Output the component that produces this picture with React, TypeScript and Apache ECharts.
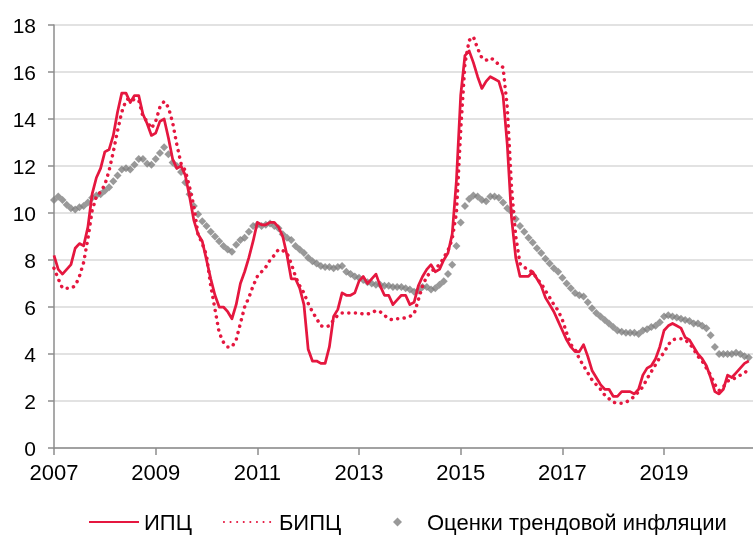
import React, { useEffect, useRef } from "react";
import * as echarts from "echarts";

const startYear = 2007;
const seriesNames = ["ИПЦ", "БИПЦ", "Оценки трендовой инфляции"];

// Monthly values from Jan 2007
const cpi = [
  8.2, 7.6, 7.4, 7.6, 7.8, 8.5, 8.7, 8.6, 9.4, 10.8, 11.5, 11.9,
  12.6, 12.7, 13.3, 14.3, 15.1, 15.1, 14.7, 15.0, 15.0, 14.2, 13.8, 13.3,
  13.4, 13.9, 14.0, 13.2, 12.3, 11.9, 12.0, 11.6, 10.7, 9.7, 9.1, 8.8,
  8.0, 7.2, 6.5, 6.0, 6.0, 5.8, 5.5, 6.1, 7.0, 7.5, 8.1, 8.8,
  9.6, 9.5, 9.5, 9.6, 9.6, 9.4, 9.0, 8.2, 7.2, 7.2, 6.8, 6.1,
  4.2, 3.7, 3.7, 3.6, 3.6, 4.3, 5.6, 5.9, 6.6, 6.5, 6.5, 6.6,
  7.1, 7.3, 7.0, 7.2, 7.4, 6.9, 6.5, 6.5, 6.1, 6.3, 6.5, 6.5,
  6.1, 6.2, 6.9, 7.3, 7.6, 7.8, 7.5, 7.6, 8.0, 8.3, 9.1, 11.4,
  15.0, 16.7, 16.9, 16.4, 15.8, 15.3, 15.6, 15.8, 15.7, 15.6, 15.0, 12.9,
  9.8, 8.1, 7.3, 7.3, 7.3, 7.5, 7.2, 6.9, 6.4, 6.1, 5.8, 5.4,
  5.0, 4.6, 4.3, 4.1, 4.1, 4.4, 3.9, 3.3, 3.0, 2.7, 2.5, 2.5,
  2.2, 2.2, 2.4, 2.4, 2.4, 2.3, 2.5, 3.1, 3.4, 3.5, 3.8, 4.3,
  5.0, 5.2, 5.3, 5.2, 5.1, 4.7, 4.6, 4.3, 4.0, 3.8, 3.5, 3.0,
  2.4, 2.3, 2.5, 3.1, 3.0, 3.2, 3.4, 3.6, 3.7,
];

const coreCpi = [
  7.65, 7.2, 6.8, 6.8, 6.8, 6.9, 7.3, 7.9, 8.9, 10.1, 10.7, 10.9,
  11.2, 11.8, 12.6, 13.5, 14.3, 14.8, 14.9, 14.8, 14.8, 14.1, 13.9, 13.6,
  13.9, 14.5, 14.75, 14.5, 13.85, 12.9, 12.1, 11.8, 11.1, 10.3, 9.1, 8.7,
  8.2, 6.9, 5.9, 4.9, 4.5, 4.3, 4.3, 4.6, 5.3, 6.0, 6.4, 6.9,
  7.3, 7.5, 7.7, 8.0, 8.2, 8.45, 8.4, 8.3, 7.85, 7.3, 6.9, 6.6,
  6.15, 5.8, 5.5, 5.2, 5.15, 5.2, 5.45, 5.65, 5.75, 5.75, 5.75, 5.75,
  5.75, 5.7, 5.7, 5.75, 5.85, 5.8, 5.65, 5.5, 5.45, 5.5, 5.5, 5.55,
  5.6, 5.7, 6.3, 6.9, 7.3, 7.5, 7.65, 7.8, 8.1, 8.4, 8.9, 10.0,
  13.5, 16.35, 17.35, 17.5, 17.0, 16.6, 16.5, 16.6, 16.5, 16.3, 16.2, 14.5,
  11.1, 9.0, 7.85, 7.7, 7.55, 7.5, 7.2, 7.0, 6.7, 6.4, 6.1, 5.85,
  5.45, 4.9, 4.4, 4.2, 3.8, 3.5, 3.2, 2.9, 2.7, 2.5, 2.25, 2.1,
  1.95, 1.9, 1.9, 1.95, 2.05, 2.2, 2.4, 2.6, 2.95, 3.25, 3.55, 3.85,
  4.05, 4.4, 4.6, 4.65, 4.65, 4.6, 4.45, 4.2, 3.9, 3.7, 3.4, 3.1,
  2.7, 2.45, 2.6, 2.85, 2.9, 3.0, 3.1, 3.2, 3.35,
];

const trend = [
  10.55, 10.7, 10.55, 10.35, 10.2, 10.15, 10.25, 10.3, 10.45, 10.65, 10.75, 10.8,
  10.95, 11.1, 11.35, 11.6, 11.85, 11.9, 11.85, 12.05, 12.3, 12.3, 12.1, 12.05,
  12.3, 12.55, 12.8, 12.5, 12.15, 12.0, 11.75, 11.3, 10.8, 10.3, 9.95, 9.65,
  9.45, 9.2, 9.0, 8.8, 8.6, 8.45, 8.35, 8.65, 8.85, 8.95, 9.2, 9.45,
  9.5, 9.45, 9.5, 9.55, 9.45, 9.35, 9.1, 8.95, 8.85, 8.6, 8.45, 8.3,
  8.1, 7.95, 7.85, 7.75, 7.7, 7.7, 7.65, 7.7, 7.75, 7.5, 7.4, 7.3,
  7.25, 7.15, 7.05, 7.0, 6.95, 6.95, 6.9, 6.9, 6.85, 6.85, 6.85, 6.8,
  6.75, 6.65, 6.7, 6.85, 6.85, 6.75, 6.8, 6.95, 7.1, 7.4, 7.8, 8.6,
  9.6, 10.3, 10.6, 10.75, 10.7, 10.55, 10.5, 10.7, 10.7, 10.65, 10.45, 10.2,
  10.05, 9.75, 9.45, 9.2, 8.95, 8.75, 8.5, 8.3, 8.05, 7.85, 7.65, 7.5,
  7.25, 7.0, 6.8, 6.6, 6.5, 6.45, 6.2, 5.95, 5.75, 5.6, 5.45, 5.3,
  5.15, 5.0, 4.95, 4.9, 4.9, 4.9, 4.85, 5.0, 5.05, 5.15, 5.2, 5.35,
  5.6, 5.65, 5.6, 5.55, 5.5, 5.45, 5.4, 5.3, 5.3, 5.2, 5.1, 4.8,
  4.3, 4.0, 4.0, 4.0, 4.0, 4.05, 4.0, 3.9, 3.85,
];

const FONT = "'Liberation Sans', Arial, Helvetica, sans-serif";
const RED = "#E5173F";
const GREY = "#7F7F7F";
const AXIS = "#8C8C8C";

export default function App() {
  const ref = useRef<HTMLDivElement>(null);

  useEffect(() => {
    if (!ref.current) return;
    const chart = echarts.init(ref.current, null, { renderer: "svg" });
    const pairs = (arr: number[]) => arr.map((v, i) => [i, v]);

    chart.setOption({
      animation: false,
      textStyle: { fontFamily: FONT },
      grid: { left: 54, right: 0, top: 25, bottom: 88 },
      xAxis: {
        type: "value",
        min: 0,
        max: 165,
        interval: 24,
        axisLine: { show: true, lineStyle: { color: AXIS, width: 1.5 } },
        axisTick: { show: true, length: 7, lineStyle: { color: AXIS, width: 1.5 } },
        axisLabel: {
          showMaxLabel: false,
          fontSize: 22,
          color: "#000",
          margin: 13,
          fontFamily: FONT,
          formatter: (v: number) => (v % 24 === 0 ? String(startYear + v / 12) : ""),
        },
        splitLine: { show: false },
      },
      yAxis: {
        type: "value",
        min: 0,
        max: 18,
        interval: 2,
        axisLine: { show: true, lineStyle: { color: AXIS, width: 1.5 } },
        axisTick: { show: true, length: 6, lineStyle: { color: AXIS, width: 1.5 } },
        axisLabel: { fontSize: 21, color: "#000", margin: 18, fontFamily: FONT },
        splitLine: { lineStyle: { color: "#D9D9D9", width: 1.5 } },
      },
      legend: [
        {
          data: [seriesNames[0], seriesNames[1]],
          left: 83,
          top: 506,
          itemWidth: 50,
          itemHeight: 14,
          itemGap: 31,
          itemStyle: { opacity: 0 },
          textStyle: { fontSize: 22, color: "#000", fontFamily: FONT },
        },
        {
          data: [{ name: seriesNames[2], icon: "diamond" }],
          left: 388,
          top: 506,
          itemWidth: 9,
          itemHeight: 9,
          textStyle: {
            fontSize: 22,
            color: "#000",
            fontFamily: FONT,
            padding: [0, 0, 0, 20],
          },
        },
      ],
      series: [
        {
          name: seriesNames[2],
          type: "scatter",
          symbol: "diamond",
          symbolSize: 8,
          itemStyle: { color: GREY },
          data: pairs(trend),
        },
        {
          name: seriesNames[1],
          type: "line",
          showSymbol: false,
          symbol: "none",
          itemStyle: { color: RED },
          lineStyle: { color: RED, width: 3.5, type: [0.1, 6.5], cap: "round" },
          data: pairs(coreCpi),
        },
        {
          name: seriesNames[0],
          type: "line",
          showSymbol: false,
          symbol: "none",
          itemStyle: { color: RED },
          lineStyle: { color: RED, width: 2.75, join: "round" },
          data: pairs(cpi),
        },
      ],
    });

    return () => chart.dispose();
  }, []);

  return (
    <div
      ref={ref}
      style={{ position: "fixed", left: 0, top: 0, width: 753, height: 536 }}
    />
  );
}
